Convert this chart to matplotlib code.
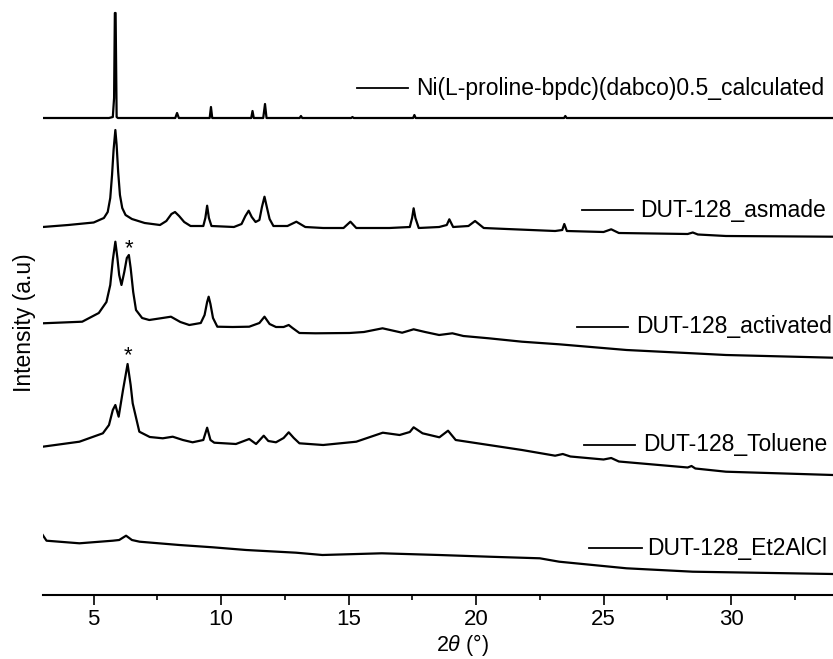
import matplotlib
matplotlib.use('Agg')
import matplotlib.pyplot as plt
from matplotlib.lines import Line2D

plt.rcParams['font.family'] = ['Liberation Sans', 'DejaVu Sans']
plt.rcParams['mathtext.fontset'] = 'custom'
plt.rcParams['mathtext.it'] = 'Liberation Sans:italic'
plt.rcParams['mathtext.rm'] = 'Liberation Sans'

# Stacked intensities (a.u.), offsets already included
calc_x = [3.0, 5.6, 5.75, 5.8, 5.83, 5.86, 5.9, 5.95, 8.2, 8.27, 8.34, 9.55, 9.6, 9.65,
          11.18, 11.23, 11.28, 11.65, 11.72, 11.78, 13.08, 13.13, 13.18, 15.1, 15.15, 15.2,
          17.53, 17.58, 17.63, 23.45, 23.5, 23.55, 34.0]
calc_y = [477, 477, 478, 497, 582, 582, 478, 477, 477, 482, 477, 477, 488, 477,
          477, 484, 477, 477, 491, 477, 477, 479, 477, 477, 478, 477,
          477, 480, 477, 477, 479, 477, 477]

asmade_x = [3.0, 4.0, 5.0, 5.4, 5.55, 5.65, 5.72, 5.78, 5.85, 5.9, 5.96, 6.03, 6.12, 6.25,
            6.5, 7.0, 7.6, 7.85, 8.05, 8.19, 8.35, 8.55, 8.8, 9.3, 9.38, 9.45, 9.52, 9.62,
            10.5, 10.8, 10.95, 11.08, 11.2, 11.35, 11.5, 11.6, 11.7, 11.8, 11.9, 12.05,
            12.6, 12.95, 13.3, 14.0, 14.8, 15.07, 15.3, 16.6, 17.4, 17.49, 17.55, 17.62,
            17.75, 18.55, 18.85, 18.95, 19.1, 19.7, 19.96, 20.3, 21.2, 23.1, 23.38, 23.46,
            23.56, 25.0, 25.3, 25.6, 28.3, 28.5, 28.7, 29.8, 34.0]
asmade_py = [227, 225, 222.5, 218, 212, 198, 175, 150, 130, 145, 172, 195, 208, 215,
             219, 223, 225, 221, 214, 212, 216, 222, 226, 226, 218, 205.7, 218, 226,
             227, 224, 216, 210.7, 217, 222, 220, 207, 196.7, 208, 219, 226,
             226, 221.7, 227, 228, 228, 221.7, 228, 228, 227, 218, 208.3, 218,
             228, 227, 225, 219.3, 227, 226, 221, 228, 229, 231, 230, 224,
             231, 232, 229.3, 233, 234, 232.5, 234.5, 236, 236.7]

act_x = [3.0, 4.55, 5.2, 5.5, 5.65, 5.75, 5.85, 5.93, 6.0, 6.09, 6.2, 6.3, 6.38, 6.45,
         6.55, 6.66, 6.9, 7.18, 7.7, 8.03, 8.4, 8.75, 9.2, 9.35, 9.45, 9.51, 9.58, 9.68,
         9.85, 10.45, 11.1, 11.5, 11.7, 11.9, 12.15, 12.45, 12.65, 12.8, 13.07, 13.7,
         15.03, 15.6, 16.33, 17.1, 17.55, 18.0, 18.55, 19.07, 19.5, 20.5, 21.8, 23.26,
         25.9, 28.5, 29.8, 34.0]
act_py = [323.3, 321.7, 313, 302, 285, 260, 241.7, 258, 275, 285, 272, 258, 255, 268,
          292, 310, 318, 320, 318, 316.7, 322, 325, 323, 315, 302, 296.7, 304, 318,
          326.7, 327, 326.7, 323, 316.7, 324, 327, 327, 325, 328, 333, 333.3,
          333, 332, 328.3, 332.7, 329.3, 332, 335, 333.3, 336, 338.3, 341.7, 344.3,
          350, 353.3, 355, 357.7]

tol_x = [3.0, 4.44, 5.36, 5.6, 5.75, 5.85, 5.98, 6.15, 6.33, 6.45, 6.53, 6.79, 7.2, 7.71,
         8.1, 8.5, 8.88, 9.3, 9.45, 9.58, 9.73, 10.58, 11.1, 11.37, 11.67, 11.85, 12.15,
         12.45, 12.65, 12.85, 13.07, 14.0, 15.3, 16.34, 17.0, 17.4, 17.55, 17.9, 18.56,
         18.9, 19.2, 20.5, 21.8, 23.1, 23.4, 23.7, 25.0, 25.3, 25.6, 28.3, 28.45, 28.6,
         29.8, 34.0]
tol_py = [446.7, 441.7, 433.3, 425, 410, 405, 416.7, 390, 364, 385, 403.3, 431.7, 437, 438.3,
          436.7, 440, 442.3, 440, 427.7, 440, 442.7, 444, 439, 444, 435.7, 441, 442.3,
          438, 432.3, 438, 443.3, 445, 441.7, 432.7, 435, 432, 427.3, 433.3, 437.3,
          430.7, 440, 445, 450, 455.7, 454, 456.5, 459.5, 458, 461.5, 467.5, 466, 468.5,
          471.7, 475]

et_x = [3.0, 3.15, 4.44, 5.75, 6.0, 6.27, 6.5, 6.8, 8.36, 9.67, 10.98, 12.94, 13.97, 16.3,
        18.55, 20.5, 22.5, 23.26, 25.9, 28.5, 34.0]
et_py = [535, 540.7, 543.3, 540.7, 540, 535.7, 540, 541.7, 545, 547.3, 550, 552.7, 555, 553.3,
         555, 556.7, 558.3, 561.7, 568.3, 571.7, 574]

labels = ['Ni(L-proline-bpdc)(dabco)0.5_calculated', 'DUT-128_asmade',
          'DUT-128_activated', 'DUT-128_Toluene', 'DUT-128_Et2AlCl']

ZERO = 595  # baseline of the y scale


def to_y(vals):
    return [ZERO - v for v in vals]


series = [
    (calc_x, calc_y),
    (asmade_x, to_y(asmade_py)),
    (act_x, to_y(act_py)),
    (tol_x, to_y(tol_py)),
    (et_x, to_y(et_py)),
]

W, H = 833, 659
fig = plt.figure(figsize=(W / 100, H / 100), dpi=100)
ax = fig.add_axes([42.7 / W, 1 - 595 / H, 1 - 42.7 / W, 595 / H])

for xs, ys in series:
    ax.plot(xs, ys, color='black', lw=1.6)

# stars over the extra peak
ax.text(6.38, ZERO - 249, '*', ha='center', va='center', fontsize=16)
ax.text(6.33, ZERO - 356, '*', ha='center', va='center', fontsize=16)

ax.set_xlim(3, 34)
ax.set_ylim(0, ZERO)
ax.set_xticks([5, 10, 15, 20, 25, 30])
ax.set_xticks([7.5, 12.5, 17.5, 22.5, 27.5, 32.5], minor=True)
ax.set_yticks([])
for s in ['top', 'right', 'left']:
    ax.spines[s].set_visible(False)
ax.spines['bottom'].set_linewidth(1.5)
ax.tick_params(axis='x', which='major', length=7, width=1.2, labelsize=16, pad=3)
ax.tick_params(axis='x', which='minor', length=3.8, width=1.2)

# legend entries: short line + text to the right of each trace
legend_pos = [(357, 408, 416, 88), (582, 633, 640, 210), (577, 628, 636, 327),
              (584, 635, 643, 445), (589, 642, 647, 548)]
for (x0, x1, xt, yp), lab in zip(legend_pos, labels):
    fig.add_artist(Line2D([x0 / W, x1 / W], [1 - yp / H] * 2, color='black', lw=1.3))
    fig.text(xt / W, 1 - yp / H, lab, ha='left', va='center', fontsize=16.5)

fig.text(463 / W, 1 / H, r'2$\it{\theta}$ (°)', ha='center', va='bottom', fontsize=15.5)
fig.text(24 / W, 1 - 323 / H, 'Intensity (a.u)', ha='center', va='center',
         rotation=90, fontsize=16.5)

plt.savefig('out.png', dpi=100)
